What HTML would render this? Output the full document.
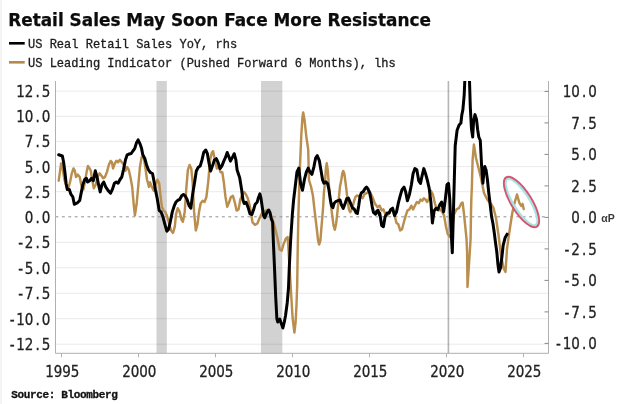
<!DOCTYPE html><html><head><meta charset="utf-8"><title>Retail Sales May Soon Face More Resistance</title>
<style>html,body{margin:0;padding:0;background:#fff;overflow:hidden}svg{display:block}.t{font-family:"DejaVu Sans","Liberation Sans",sans-serif;font-weight:bold;font-size:16.9px;fill:#0c0c0c;stroke:#0c0c0c;stroke-width:0.25px}.lg{font-family:"Liberation Mono","DejaVu Sans Mono",monospace;font-size:12.03px;fill:#1c1c1c;stroke:#1c1c1c;stroke-width:0.3px}.ax{font-family:"DejaVu Sans","Liberation Sans",sans-serif;font-size:15px;fill:#222;stroke:#222;stroke-width:0.3px}.src{font-family:"Liberation Mono","DejaVu Sans Mono",monospace;font-weight:bold;font-size:11px;letter-spacing:-0.36px;fill:#111;stroke:#111;stroke-width:0.3px}</style></head><body>
<svg width="620" height="404" viewBox="0 0 620 404">
<rect width="620" height="404" fill="#fff"/>
<rect x="0" y="0" width="2" height="404" fill="#f4f4f4"/>
<text class="t" x="8.2" y="25.5">Retail Sales May Soon Face More Resistance</text>
<line x1="9" y1="43.3" x2="24.7" y2="43.3" stroke="#000" stroke-width="2.6"/>
<text class="lg" x="28" y="48">US Real Retail Sales YoY, rhs</text>
<line x1="9" y1="62.3" x2="24.7" y2="62.3" stroke="#b58a4a" stroke-width="2.6"/>
<text class="lg" x="28" y="67">US Leading Indicator (Pushed Forward 6 Months), lhs</text>
<rect x="156.5" y="81" width="10.3" height="272.3" fill="#d2d2d2"/>
<rect x="261" y="81" width="21.3" height="272.3" fill="#d2d2d2"/>
<rect x="447.6" y="81" width="1.6" height="272.3" fill="#b5b5b5"/>
<line x1="55.5" y1="344.2" x2="548.5" y2="344.2" stroke="#000" stroke-opacity="0.085" stroke-width="1"/>
<line x1="55.5" y1="318.7" x2="548.5" y2="318.7" stroke="#000" stroke-opacity="0.085" stroke-width="1"/>
<line x1="55.5" y1="293.3" x2="548.5" y2="293.3" stroke="#000" stroke-opacity="0.085" stroke-width="1"/>
<line x1="55.5" y1="267.8" x2="548.5" y2="267.8" stroke="#000" stroke-opacity="0.085" stroke-width="1"/>
<line x1="55.5" y1="242.4" x2="548.5" y2="242.4" stroke="#000" stroke-opacity="0.085" stroke-width="1"/>
<line x1="55.5" y1="191.7" x2="548.5" y2="191.7" stroke="#000" stroke-opacity="0.085" stroke-width="1"/>
<line x1="55.5" y1="166.6" x2="548.5" y2="166.6" stroke="#000" stroke-opacity="0.085" stroke-width="1"/>
<line x1="55.5" y1="141.4" x2="548.5" y2="141.4" stroke="#000" stroke-opacity="0.085" stroke-width="1"/>
<line x1="55.5" y1="116.3" x2="548.5" y2="116.3" stroke="#000" stroke-opacity="0.085" stroke-width="1"/>
<line x1="55.5" y1="91.1" x2="548.5" y2="91.1" stroke="#000" stroke-opacity="0.085" stroke-width="1"/>
<line x1="55.5" y1="216.8" x2="548.5" y2="216.8" stroke="#8e9299" stroke-width="1" stroke-dasharray="2.9 3.5"/>
<path d="M55.5,81 V353.3 H548.5 V81" fill="none" stroke="#b0b0b0" stroke-width="1"/>
<line x1="61.5" y1="353.3" x2="61.5" y2="357.3" stroke="#b0b0b0"/>
<text class="ax" transform="scale(0.9 1)" x="54.94 64.39 73.83 83.28" y="377.0" text-anchor="middle">1995</text>
<line x1="138.5" y1="353.3" x2="138.5" y2="357.3" stroke="#b0b0b0"/>
<text class="ax" transform="scale(0.9 1)" x="140.50 149.94 159.39 168.83" y="377.0" text-anchor="middle">2000</text>
<line x1="215.5" y1="353.3" x2="215.5" y2="357.3" stroke="#b0b0b0"/>
<text class="ax" transform="scale(0.9 1)" x="226.06 235.50 244.94 254.39" y="377.0" text-anchor="middle">2005</text>
<line x1="292.5" y1="353.3" x2="292.5" y2="357.3" stroke="#b0b0b0"/>
<text class="ax" transform="scale(0.9 1)" x="311.61 321.06 330.50 339.94" y="377.0" text-anchor="middle">2010</text>
<line x1="369.5" y1="353.3" x2="369.5" y2="357.3" stroke="#b0b0b0"/>
<text class="ax" transform="scale(0.9 1)" x="397.17 406.61 416.06 425.50" y="377.0" text-anchor="middle">2015</text>
<line x1="446.5" y1="353.3" x2="446.5" y2="357.3" stroke="#b0b0b0"/>
<text class="ax" transform="scale(0.9 1)" x="482.72 492.17 501.61 511.06" y="377.0" text-anchor="middle">2020</text>
<line x1="523.5" y1="353.3" x2="523.5" y2="357.3" stroke="#b0b0b0"/>
<text class="ax" transform="scale(0.9 1)" x="568.28 577.72 587.17 596.61" y="377.0" text-anchor="middle">2025</text>
<text class="ax" transform="scale(0.9 1)" x="13.50 22.94 32.39 41.83 51.28" y="350.2" text-anchor="middle">-12.5</text>
<text class="ax" transform="scale(0.9 1)" x="13.50 22.94 32.39 41.83 51.28" y="324.7" text-anchor="middle">-10.0</text>
<text class="ax" transform="scale(0.9 1)" x="22.94 32.39 41.83 51.28" y="299.3" text-anchor="middle">-7.5</text>
<text class="ax" transform="scale(0.9 1)" x="22.94 32.39 41.83 51.28" y="273.8" text-anchor="middle">-5.0</text>
<text class="ax" transform="scale(0.9 1)" x="22.94 32.39 41.83 51.28" y="248.4" text-anchor="middle">-2.5</text>
<text class="ax" transform="scale(0.9 1)" x="32.39 41.83 51.28" y="222.9" text-anchor="middle">0.0</text>
<text class="ax" transform="scale(0.9 1)" x="32.39 41.83 51.28" y="197.7" text-anchor="middle">2.5</text>
<text class="ax" transform="scale(0.9 1)" x="32.39 41.83 51.28" y="172.6" text-anchor="middle">5.0</text>
<text class="ax" transform="scale(0.9 1)" x="32.39 41.83 51.28" y="147.4" text-anchor="middle">7.5</text>
<text class="ax" transform="scale(0.9 1)" x="22.94 32.39 41.83 51.28" y="122.3" text-anchor="middle">10.0</text>
<text class="ax" transform="scale(0.9 1)" x="22.94 32.39 41.83 51.28" y="97.1" text-anchor="middle">12.5</text>
<line x1="544.5" y1="343.4" x2="548.5" y2="343.4" stroke="#888"/>
<text class="ax" transform="scale(0.9 1)" x="620.61 630.06 639.50 648.94 658.39" y="349.4" text-anchor="middle">-10.0</text>
<line x1="544.5" y1="311.9" x2="548.5" y2="311.9" stroke="#888"/>
<text class="ax" transform="scale(0.9 1)" x="630.06 639.50 648.94 658.39" y="317.9" text-anchor="middle">-7.5</text>
<line x1="544.5" y1="280.4" x2="548.5" y2="280.4" stroke="#888"/>
<text class="ax" transform="scale(0.9 1)" x="630.06 639.50 648.94 658.39" y="286.4" text-anchor="middle">-5.0</text>
<line x1="544.5" y1="248.9" x2="548.5" y2="248.9" stroke="#888"/>
<text class="ax" transform="scale(0.9 1)" x="630.06 639.50 648.94 658.39" y="254.9" text-anchor="middle">-2.5</text>
<line x1="544.5" y1="217.4" x2="548.5" y2="217.4" stroke="#888"/>
<text class="ax" transform="scale(0.9 1)" x="639.50 648.94 658.39" y="223.4" text-anchor="middle">0.0</text>
<line x1="544.5" y1="185.9" x2="548.5" y2="185.9" stroke="#888"/>
<text class="ax" transform="scale(0.9 1)" x="639.50 648.94 658.39" y="191.9" text-anchor="middle">2.5</text>
<line x1="544.5" y1="154.4" x2="548.5" y2="154.4" stroke="#888"/>
<text class="ax" transform="scale(0.9 1)" x="639.50 648.94 658.39" y="160.4" text-anchor="middle">5.0</text>
<line x1="544.5" y1="122.9" x2="548.5" y2="122.9" stroke="#888"/>
<text class="ax" transform="scale(0.9 1)" x="639.50 648.94 658.39" y="128.9" text-anchor="middle">7.5</text>
<line x1="544.5" y1="91.4" x2="548.5" y2="91.4" stroke="#888"/>
<text class="ax" transform="scale(0.9 1)" x="630.06 639.50 648.94 658.39" y="97.4" text-anchor="middle">10.0</text>
<clipPath id="c"><rect x="55.5" y="81" width="493.0" height="272.3"/></clipPath>
<g clip-path="url(#c)" fill="none" stroke-linejoin="round" stroke-linecap="round">
<path d="M58.7,180.7 L59.9,172.1 L61.1,163.4 L62.4,167.1 L64.4,179.5 L66.1,185.7 L67.8,189.4 L69.8,183.2 L71.8,173.3 L73.5,168.4 L74.8,170.8 L76.0,177.0 L77.7,174.6 L79.7,177.0 L81.7,186.9 L83.4,189.4 L84.7,183.2 L86.6,172.1 L87.9,165.9 L89.6,168.4 L90.8,170.8 L92.1,179.5 L93.8,188.2 L95.8,184.5 L97.5,177.0 L99.5,173.3 L101.5,175.8 L103.2,178.3 L105.0,177.0 L106.9,172.1 L108.9,164.7 L110.6,160.9 L111.9,162.2 L113.1,168.4 L114.9,163.4 L116.3,160.9 L118.1,162.2 L119.8,159.7 L121.8,162.2 L123.8,164.7 L125.5,170.8 L127.2,167.1 L128.7,169.6 L130.4,177.0 L132.2,186.9 L133.7,204.3 L134.9,215.4 L136.6,204.3 L138.4,184.5 L139.9,167.1 L141.6,157.2 L143.6,156.0 L145.3,167.1 L147.0,179.5 L149.0,186.9 L150.0,182.2 L152.0,187.1 L153.7,190.8 L155.4,184.7 L157.4,179.7 L159.2,183.4 L160.4,194.6 L161.9,206.9 L163.6,210.6 L165.3,211.9 L167.3,216.8 L169.3,224.3 L171.0,230.4 L173.0,232.9 L174.8,226.7 L176.0,214.4 L177.7,208.2 L179.7,211.9 L181.4,219.3 L182.9,221.8 L184.7,211.9 L186.4,187.1 L187.9,169.8 L189.6,164.9 L191.3,168.6 L192.6,182.2 L194.1,211.9 L195.8,230.4 L197.5,224.3 L199.0,211.9 L200.7,203.2 L202.7,200.7 L204.5,202.0 L206.4,197.0 L208.2,182.2 L210.1,159.9 L211.9,152.5 L213.1,151.2 L214.9,159.9 L216.8,168.6 L218.8,166.1 L220.5,172.3 L222.3,172.3 L223.8,182.2 L225.5,197.0 L227.2,206.9 L229.2,202.0 L230.9,197.0 L232.9,195.8 L234.7,202.0 L236.6,210.6 L238.6,209.4 L240.3,199.5 L242.3,194.6 L244.1,192.1 L246.0,194.6 L247.8,198.3 L249.8,205.7 L252.5,222.3 L255.0,224.8 L257.4,223.5 L259.9,217.3 L262.4,212.4 L264.9,211.1 L267.3,209.9 L269.8,212.4 L272.3,218.6 L274.8,227.2 L277.2,237.1 L279.7,249.5 L281.7,250.7 L283.4,244.6 L285.9,238.4 L287.6,237.1 L288.5,249.5 L289.7,270.0 L291.2,295.0 L292.6,318.0 L294.4,332.5 L295.6,322.0 L296.5,305.0 L297.2,285.0 L297.7,250.0 L298.4,215.0 L299.8,170.0 L301.3,135.0 L302.4,118.0 L303.2,112.4 L304.5,119.8 L306.4,137.1 L308.2,149.5 L309.0,180.0 L311.0,186.5 L312.9,195.5 L314.8,212.3 L316.8,229.0 L318.1,240.6 L319.1,244.5 L320.4,240.6 L321.3,229.0 L322.2,218.7 L323.2,205.8 L323.9,192.9 L325.2,180.0 L325.8,169.7 L326.7,163.2 L327.7,169.7 L329.0,186.5 L331.0,205.8 L332.3,216.1 L333.5,225.2 L334.8,229.7 L336.1,223.9 L337.4,212.3 L338.7,199.4 L340.0,186.5 L341.3,180.0 L342.3,173.5 L343.2,171.0 L344.3,173.5 L345.2,180.0 L346.5,190.3 L347.7,201.9 L349.0,209.7 L350.3,212.3 L351.6,209.7 L352.9,205.8 L354.2,200.6 L355.5,196.8 L356.8,195.5 L358.7,196.1 L360.6,196.8 L362.6,198.1 L364.5,194.2 L367.1,192.9 L369.7,191.6 L372.3,196.8 L374.8,203.2 L377.4,207.1 L379.4,205.8 L379.7,205.7 L381.7,210.6 L383.4,209.4 L385.4,214.4 L387.1,215.6 L389.1,213.1 L390.8,209.4 L392.6,210.6 L394.6,215.6 L396.5,223.0 L398.3,224.3 L400.2,230.4 L402.0,229.2 L404.0,221.8 L405.7,215.6 L407.4,210.6 L409.4,209.4 L411.4,205.7 L413.1,209.4 L414.9,205.7 L416.8,202.0 L418.8,203.2 L420.5,199.5 L422.3,200.7 L423.8,198.3 L425.5,199.5 L427.2,202.0 L429.2,198.3 L430.9,190.8 L432.9,194.6 L434.9,203.2 L436.6,209.4 L438.6,210.6 L440.3,209.4 L442.3,211.9 L444.1,215.6 L446.0,226.7 L447.8,234.2 L449.8,236.6 L451.5,234.2 L454.0,214.4 L456.4,209.4 L458.9,208.2 L461.4,203.2 L462.6,202.6 L463.9,213.0 L465.2,225.8 L466.5,238.7 L467.1,252.0 L467.5,287.0 L469.8,252.0 L470.6,238.7 L471.0,213.0 L471.3,200.0 L471.9,185.8 L472.6,160.0 L473.9,144.5 L476.0,158.0 L478.5,168.0 L481.0,178.0 L484.0,193.0 L487.5,200.0 L491.0,204.0 L493.5,208.0 L496.0,218.0 L498.5,235.0 L501.0,255.0 L503.5,268.0 L505.5,272.0 L507.0,249.0 L508.4,238.7 L510.3,225.8 L512.3,213.0 L514.5,203.0 L517.0,194.5 L519.4,202.9 L521.2,206.0 L522.6,203.9 L523.7,209.0" stroke="#ba8e4e" stroke-width="2.45"/>
<path d="M58.7,154.8 L62.4,156.0 L63.6,162.2 L64.9,172.1 L66.1,183.2 L67.3,189.4 L69.3,189.4 L71.0,194.4 L72.8,196.8 L74.3,204.3 L77.2,203.0 L79.7,200.5 L81.4,191.9 L82.9,184.5 L84.7,179.5 L86.4,178.3 L87.6,182.0 L89.6,180.7 L91.6,178.3 L93.3,180.7 L95.3,170.8 L97.0,177.0 L98.8,185.7 L100.2,191.9 L102.0,184.5 L103.7,182.0 L105.7,186.9 L108.2,190.6 L110.6,193.1 L112.4,189.4 L114.4,183.2 L116.3,182.0 L118.1,183.2 L120.0,179.5 L121.8,177.0 L123.5,169.6 L125.5,159.7 L127.2,154.8 L129.2,154.0 L131.2,153.5 L132.9,151.0 L134.7,148.6 L136.6,142.4 L138.1,139.9 L139.9,143.6 L141.6,148.6 L142.8,154.8 L144.8,158.5 L146.5,164.7 L148.3,169.6 L150.2,172.1 L150.0,172.3 L152.5,173.5 L153.7,179.7 L155.4,189.6 L157.4,199.5 L159.2,210.6 L161.1,211.9 L162.9,216.8 L164.9,224.3 L166.8,231.2 L168.6,229.2 L170.3,221.8 L172.3,211.9 L174.3,205.7 L176.0,202.0 L178.0,200.2 L179.7,199.5 L181.7,195.8 L183.4,194.6 L185.1,195.8 L187.1,199.5 L189.1,205.7 L190.8,208.2 L192.6,194.6 L194.6,182.2 L196.3,171.0 L198.3,167.3 L200.2,166.1 L202.0,159.9 L203.7,152.5 L205.7,150.0 L207.4,153.7 L208.9,162.4 L210.6,171.0 L212.4,166.1 L214.4,159.9 L216.3,158.7 L218.1,162.4 L220.0,168.6 L221.8,166.1 L223.8,161.1 L225.5,157.4 L227.2,152.5 L228.7,156.2 L230.4,161.1 L232.4,157.4 L234.2,153.7 L235.9,159.9 L237.1,170.0 L239.7,177.7 L241.6,189.4 L242.9,199.7 L244.2,203.5 L246.1,202.3 L248.1,207.4 L250.0,213.9 L251.9,214.5 L253.9,208.7 L255.2,204.2 L257.1,202.3 L258.4,197.7 L259.9,193.9 L261.0,198.4 L262.3,207.4 L263.5,215.2 L264.8,217.7 L266.8,212.6 L268.7,210.0 L270.0,212.6 L271.3,219.0 L272.6,222.0 L273.5,245.0 L274.6,270.0 L275.7,297.0 L276.9,319.0 L277.8,322.0 L279.7,319.0 L281.5,324.0 L282.9,328.0 L284.3,322.0 L285.5,315.8 L287.2,303.0 L288.5,288.0 L289.3,267.0 L290.6,240.8 L292.3,215.0 L293.6,200.0 L295.8,181.7 L297.0,171.8 L298.8,168.1 L300.7,184.2 L302.5,190.3 L304.5,179.2 L306.4,171.8 L308.2,168.1 L309.9,171.8 L311.9,174.3 L313.9,166.8 L315.6,158.2 L317.3,155.7 L319.3,160.6 L321.0,170.5 L322.6,180.0 L323.9,183.2 L325.8,181.9 L327.7,183.9 L329.0,190.3 L330.3,199.4 L331.6,205.8 L332.9,207.7 L334.2,203.2 L336.1,201.3 L338.1,200.6 L340.0,200.0 L341.3,204.5 L343.2,208.4 L345.2,203.2 L346.7,198.7 L348.4,198.1 L350.3,202.6 L352.3,207.7 L354.2,209.0 L356.1,212.9 L357.4,213.5 L358.7,205.8 L360.0,196.8 L361.3,192.9 L363.2,191.6 L365.2,188.4 L366.5,187.1 L367.7,188.4 L369.7,192.9 L371.0,199.4 L372.3,207.1 L373.5,212.3 L375.5,214.2 L376.8,211.0 L378.1,210.3 L379.4,214.8 L379.7,213.1 L381.7,225.5 L383.4,226.7 L385.1,216.8 L387.1,213.1 L389.1,213.1 L390.8,209.4 L392.6,208.2 L394.6,215.6 L396.5,211.9 L398.3,203.2 L400.2,195.8 L402.0,189.6 L404.0,187.1 L405.7,192.1 L407.4,200.7 L409.4,194.6 L411.4,184.7 L413.1,173.5 L414.9,168.6 L416.8,169.8 L418.8,180.9 L420.5,183.4 L422.3,174.8 L423.8,168.6 L425.5,173.5 L427.2,179.7 L429.2,188.4 L430.9,202.0 L432.4,223.0 L434.2,210.6 L436.1,208.2 L437.9,209.4 L439.9,204.5 L441.6,202.0 L443.6,211.9 L445.3,199.5 L447.0,184.7 L448.5,183.4 L449.8,199.5 L451.0,229.2 L452.3,252.8 L453.5,209.5 L454.5,172.0 L455.2,145.8 L457.1,130.3 L459.0,125.2 L460.9,123.0 L461.8,115.0 L462.9,109.6 L464.2,94.8 L464.8,81.0 L465.6,40.0 L467.0,-100.0 L468.6,40.0 L469.5,81.0 L470.3,107.0 L471.5,129.0 L472.7,137.0 L473.6,121.0 L475.0,114.6 L476.5,119.5 L477.7,130.0 L478.8,137.0 L480.3,140.5 L481.6,166.0 L482.9,183.2 L483.8,172.9 L484.8,166.5 L486.1,170.3 L487.4,179.4 L488.7,192.3 L490.0,203.0 L491.6,216.8 L492.9,223.2 L494.2,232.3 L495.5,242.6 L496.8,252.0 L498.0,265.0 L499.0,272.0 L500.5,268.0 L502.0,256.0 L503.2,245.2 L505.2,237.4 L507.1,234.2" stroke="#000" stroke-width="3"/>
</g>
<g transform="translate(521.5 202) rotate(58)"><ellipse rx="27.2" ry="8.3" fill="none" stroke="#a6e3e6" stroke-width="2.6"/><ellipse rx="29" ry="10.2" fill="none" stroke="#d5566c" stroke-width="1.9"/></g>
<text x="601.3" y="221.6" style="font-family:'Liberation Sans',sans-serif;font-weight:bold;font-size:10.5px;fill:#3a3a3a">αP</text>
<text class="src" x="11.3" y="398">Source: Bloomberg</text>
</svg></body></html>
